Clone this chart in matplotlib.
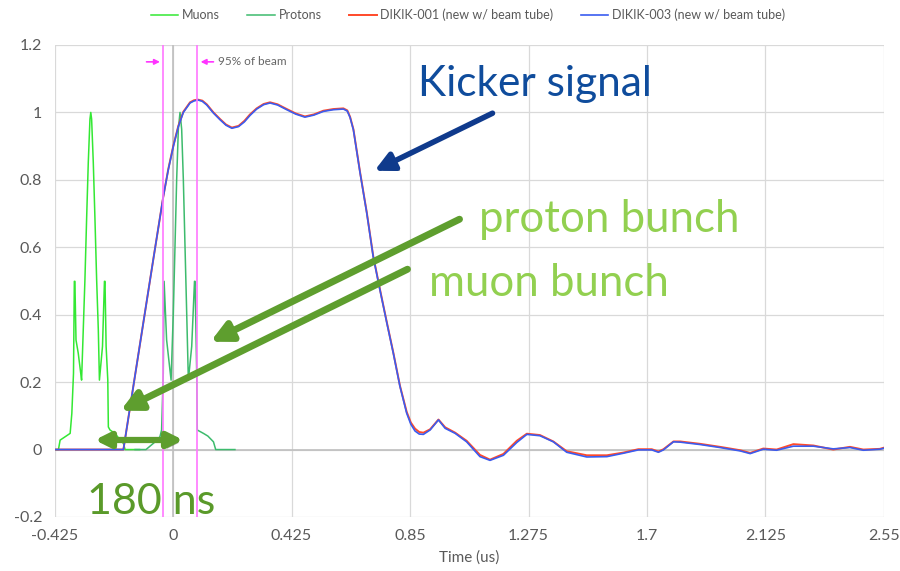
import matplotlib
matplotlib.use("Agg")
import matplotlib.pyplot as plt
import matplotlib.patheffects as pe
import numpy as np

# kicker pulse (time in us)
t_kick = [-0.425, -0.178, -0.071, -0.035, -0.017, 0.001, 0.019, 0.037, 0.061, 0.075,
          0.089, 0.105, 0.121, 0.145, 0.169, 0.19, 0.211, 0.235, 0.256, 0.276,
          0.30, 0.325, 0.348, 0.375, 0.408, 0.44, 0.473, 0.505, 0.539, 0.575,
          0.611, 0.625, 0.635, 0.647, 0.671, 0.695, 0.718, 0.742, 0.767, 0.790,
          0.814, 0.838, 0.853, 0.868, 0.883, 0.898, 0.922, 0.952, 0.976, 1.012,
          1.053, 1.101, 1.137, 1.185, 1.233, 1.269, 1.316, 1.364, 1.412, 1.484,
          1.556, 1.615, 1.669, 1.717, 1.741, 1.759, 1.795, 1.819, 1.890, 1.962,
          2.034, 2.070, 2.117, 2.165, 2.225, 2.297, 2.368, 2.428, 2.476, 2.535,
          2.56]
kick_003 = [0.0, 0.0, 0.563, 0.750, 0.830, 0.899, 0.958, 1.0, 1.028, 1.034,
            1.037, 1.033, 1.022, 0.998, 0.978, 0.962, 0.953, 0.958, 0.972, 0.991,
            1.010, 1.023, 1.028, 1.022, 1.008, 0.995, 0.986, 0.992, 1.003, 1.008,
            1.010, 1.004, 0.985, 0.948, 0.820, 0.701, 0.572, 0.474, 0.375, 0.286,
            0.187, 0.108, 0.075, 0.055, 0.046, 0.045, 0.058, 0.088, 0.063, 0.048,
            0.023, -0.021, -0.032, -0.017, 0.021, 0.045, 0.041, 0.023, -0.008, -0.022,
            -0.021, -0.011, -0.001, -0.001, -0.008, -0.001, 0.023, 0.022, 0.015, 0.006,
            -0.004, -0.012, 0.001, -0.002, 0.010, 0.010, 0.002, 0.006, -0.002, 0.001,
            0.006]
kick_001 = [0.0, 0.0, 0.563, 0.750, 0.832, 0.901, 0.960, 1.002, 1.030, 1.036,
            1.038, 1.035, 1.024, 1.000, 0.980, 0.964, 0.955, 0.960, 0.975, 0.994,
            1.012, 1.025, 1.030, 1.024, 1.010, 0.997, 0.988, 0.994, 1.005, 1.010,
            1.012, 1.006, 0.987, 0.950, 0.822, 0.703, 0.574, 0.476, 0.377, 0.288,
            0.189, 0.112, 0.080, 0.062, 0.052, 0.050, 0.060, 0.089, 0.066, 0.050,
            0.026, -0.016, -0.030, -0.013, 0.026, 0.047, 0.043, 0.024, -0.005, -0.017,
            -0.017, -0.009, 0.001, 0.001, -0.006, 0.001, 0.024, 0.024, 0.017, 0.008,
            -0.002, -0.010, 0.003, 0.000, 0.016, 0.012, 0.000, 0.008, 0.000, 0.002,
            0.008]

# muon bunch
t_mu = [-0.425, -0.411, -0.405, -0.369, -0.363, -0.357, -0.354, -0.352, -0.348, -0.340,
        -0.331, -0.328, -0.322, -0.316, -0.310, -0.304, -0.298, -0.295, -0.292, -0.286,
        -0.280, -0.274, -0.268, -0.264, -0.253, -0.246, -0.244, -0.240, -0.234, -0.232,
        -0.226, -0.208, -0.196, -0.178, -0.172, -0.12]
v_mu = [0.0, 0.0, 0.028, 0.048, 0.107, 0.226, 0.499, 0.499, 0.325, 0.286,
        0.226, 0.206, 0.355, 0.504, 0.683, 0.851, 0.980, 1.0, 0.980, 0.851,
        0.683, 0.504, 0.355, 0.206, 0.306, 0.499, 0.499, 0.306, 0.206, 0.067,
        0.058, 0.048, 0.035, 0.018, 0.0, 0.0]

# proton bunch
t_pr = [-0.136, -0.097, -0.064, -0.047, -0.041, -0.035, -0.032, -0.023, -0.007, 0.001,
        0.007, 0.013, 0.019, 0.025, 0.031, 0.037, 0.043, 0.049, 0.055, 0.067,
        0.077, 0.079, 0.085, 0.087, 0.109, 0.125, 0.145, 0.153, 0.222]
v_pr = [0.0, 0.0, 0.023, 0.038, 0.058, 0.226, 0.499, 0.325, 0.206, 0.405,
        0.601, 0.800, 0.950, 1.0, 0.950, 0.800, 0.601, 0.405, 0.206, 0.306,
        0.499, 0.499, 0.226, 0.058, 0.048, 0.040, 0.023, 0.0, 0.0]

beam_95 = [-0.035, 0.087]
xticks = [-0.425, 0, 0.425, 0.85, 1.275, 1.7, 2.125, 2.55]
xlabels = ["-0.425", "0", "0.425", "0.85", "1.275", "1.7", "2.125", "2.55"]
yticks = [-0.2, 0, 0.2, 0.4, 0.6, 0.8, 1.0, 1.2]
ylabels = ["-0.2", "0", "0.2", "0.4", "0.6", "0.8", "1", "1.2"]

plt.rcParams['font.family'] = ['Lato', 'DejaVu Sans']

fig = plt.figure(figsize=(9, 5.71), dpi=100)
ax = fig.add_axes([0.0606, 0.0946, 0.9216, 0.8266])

ax.plot(t_mu, v_mu, color='#33e833', lw=1.1, label='Muons', zorder=3)
ax.plot(t_pr, v_pr, color='#3dbb6d', lw=1.1, label='Protons', zorder=3)
ax.plot(t_kick, kick_001, color='#ff4a2a', lw=1.4, label='DIKIK-001 (new w/ beam tube)', zorder=4)
ax.plot(t_kick, kick_003, color='#3a5cf0', lw=1.2, label='DIKIK-003 (new w/ beam tube)', zorder=5)

for b in beam_95:
    ax.axvline(b, color='#ff77ff', lw=1.2, zorder=6)
ax.axvline(0, color='#bfbfbf', lw=1.2, zorder=1)
ax.axhline(0, color='#bfbfbf', lw=1.2, zorder=1)

ax.set_xlim(-0.425, 2.55)
ax.set_ylim(-0.2, 1.2)
ax.set_xticks(xticks)
ax.set_xticklabels(xlabels)
ax.set_yticks(yticks)
ax.set_yticklabels(ylabels)
ax.grid(True, color='#d9d9d9', lw=0.9)
ax.set_axisbelow(True)
for s in ax.spines.values():
    s.set_visible(False)
ax.tick_params(length=0, labelsize=11.5, colors='#595959', pad=9)
ax.set_xlabel('Time (us)', fontsize=11, color='#595959', labelpad=5)

fig.legend(loc='upper center', bbox_to_anchor=(0.52, 1.005), ncol=4, frameon=False,
           fontsize=9, handlelength=2.2, handletextpad=0.3, columnspacing=2.2,
           labelcolor='#595959')

# 95% of beam markers
ax.annotate('', xy=(-0.037, 1.15), xytext=(-0.105, 1.15),
            arrowprops=dict(arrowstyle='-|>', color='#ff33ff', lw=1.2, mutation_scale=8))
ax.annotate('', xy=(0.089, 1.15), xytext=(0.155, 1.15),
            arrowprops=dict(arrowstyle='-|>', color='#ff33ff', lw=1.2, mutation_scale=8))
ax.text(0.16, 1.15, '95% of beam', fontsize=8.5, color='#666666', va='center')

shadow = [pe.SimplePatchShadow(offset=(2, -2), alpha=0.35), pe.Normal()]

# callouts (figure pixel coordinates)
def px(x, y):
    return (x / 900, 1 - y / 571)

fig.text(*px(418, 84), 'Kicker signal', fontsize=30.5, color='#0f4c9c', va='center')
fig.text(*px(479, 220), 'proton bunch', fontsize=31.5, color='#92d050', va='center')
fig.text(*px(429, 283), 'muon bunch', fontsize=31.5, color='#92d050', va='center')
fig.text(*px(87, 502), '180 ns', fontsize=31, color='#5a9a2a', va='center')

fig.add_artist(matplotlib.patches.FancyArrowPatch(
    px(495, 112), px(372, 172), transform=fig.transFigure, arrowstyle='-|>',
    mutation_scale=28, lw=4, color='#0f3a8c', path_effects=shadow))
fig.add_artist(matplotlib.patches.FancyArrowPatch(
    px(462, 218), px(208, 343), transform=fig.transFigure, arrowstyle='-|>',
    mutation_scale=30, lw=5, color='#5e9e2e', path_effects=shadow))
fig.add_artist(matplotlib.patches.FancyArrowPatch(
    px(410, 268), px(118, 412), transform=fig.transFigure, arrowstyle='-|>',
    mutation_scale=30, lw=5, color='#5e9e2e', path_effects=shadow))
fig.add_artist(matplotlib.patches.FancyArrowPatch(
    px(92, 440), px(186, 440), transform=fig.transFigure, arrowstyle='<|-|>',
    mutation_scale=22, lw=4.5, color='#5e9e2e', path_effects=shadow))

fig.savefig('out.png', dpi=100)
